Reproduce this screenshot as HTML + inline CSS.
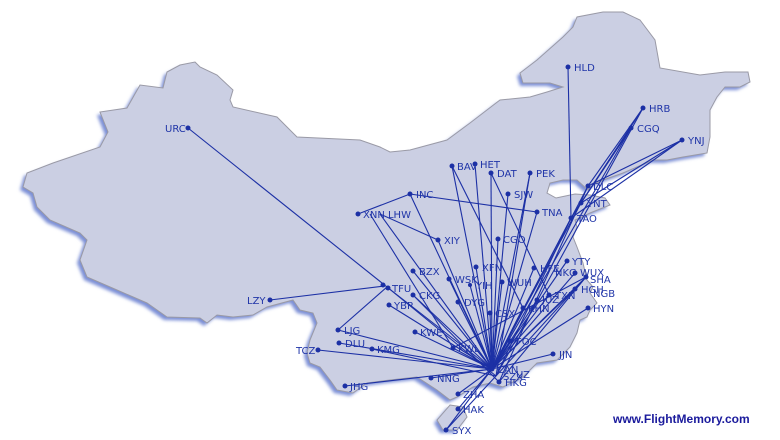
<!DOCTYPE html>
<html><head><meta charset="utf-8"><style>
html,body{margin:0;padding:0;background:#fff;width:780px;height:440px;overflow:hidden}
svg text{font-family:"DejaVu Sans","Liberation Sans",sans-serif;font-size:10px;fill:#2035a8}
</style></head><body>
<svg width="780" height="440" viewBox="0 0 780 440" xmlns="http://www.w3.org/2000/svg">
<defs><filter id="b" x="-5%" y="-5%" width="110%" height="110%"><feGaussianBlur stdDeviation="1.5"/></filter></defs>
<g id="m">
<polygon id="china" points="195,62 200,67 217,75 233,90 230,100 233,107 277,117 287,127 297,137 360,140 380,147 390,152 410,150 447,140 470,123 500,100 530,97 547,92 563,87 550,83 523,83 520,73 537,60 563,37 573,27 577,17 603,12 623,12 640,20 655,40 660,68 700,75 725,72 748,72 750,82 740,87 725,87 717,97 710,110 710,137 707,153 683,157 667,160 653,160 623,173 603,180 593,185 588,190 577,180 563,180 550,183 547,193 556,198 575,194 590,195 605,198 610,205 590,213 575,220 577,227 573,237 577,247 583,263 587,280 593,287 590,293 597,303 590,310 587,317 580,320 577,333 570,347 557,360 537,363 523,377 503,387 490,383 473,387 457,397 450,400 437,390 417,377 390,380 367,383 353,393 337,390 330,380 320,367 310,363 307,353 310,340 317,323 313,313 300,310 293,300 267,307 253,315 233,317 217,315 207,323 200,318 167,317 147,303 117,290 87,277 80,260 87,240 80,233 50,220 37,207 33,193 23,187 27,173 53,163 100,147 108,132 100,112 127,108 140,85 163,88 167,72 180,65"/>
<polygon id="hn" points="450,405 463,407 467,417 457,430 443,430 437,420"/>
</g>
<g transform="translate(-3,3)" fill="#7b8fd6" filter="url(#b)"><use href="#china"/><use href="#hn"/></g>
<g fill="#cbcfe3" stroke="#9a9aa6" stroke-width="1"><use href="#china"/><use href="#hn"/></g>
<g stroke="#1c30a5" stroke-width="1.1" fill="none">
<line x1="188" y1="128" x2="387" y2="287"/>
<line x1="270" y1="300" x2="385" y2="286"/>
<line x1="568" y1="67" x2="571" y2="218"/>
<line x1="643" y1="108" x2="588" y2="186"/><line x1="643" y1="108" x2="571" y2="218"/><line x1="643" y1="108" x2="496" y2="376"/>
<line x1="631" y1="128" x2="581" y2="203"/><line x1="631" y1="128" x2="571" y2="218"/><line x1="631" y1="128" x2="492" y2="369"/>
<line x1="682" y1="140" x2="588" y2="186"/><line x1="682" y1="140" x2="581" y2="203"/><line x1="682" y1="140" x2="571" y2="218"/>
<line x1="588" y1="186" x2="492" y2="369"/><line x1="581" y1="203" x2="492" y2="369"/><line x1="571" y1="218" x2="492" y2="369"/><line x1="571" y1="218" x2="496" y2="376"/><line x1="588" y1="186" x2="499" y2="382"/>
<line x1="410" y1="194" x2="537" y2="212"/><line x1="410" y1="194" x2="358" y2="214"/><line x1="410" y1="194" x2="492" y2="369"/>
<line x1="452" y1="166" x2="492" y2="369"/><line x1="452" y1="166" x2="523" y2="308"/><line x1="475" y1="164" x2="492" y2="369"/>
<line x1="491" y1="173" x2="492" y2="369"/><line x1="491" y1="173" x2="549" y2="295"/>
<line x1="530" y1="173" x2="492" y2="369"/><line x1="530" y1="173" x2="496" y2="376"/>
<line x1="508" y1="194" x2="492" y2="369"/><line x1="537" y1="212" x2="492" y2="369"/>
<line x1="380" y1="214" x2="492" y2="369"/><line x1="380" y1="214" x2="438" y2="240"/><line x1="370" y1="214" x2="453" y2="348"/>
<line x1="438" y1="240" x2="492" y2="369"/><line x1="498" y1="239" x2="492" y2="369"/>
<line x1="567" y1="261" x2="492" y2="369"/><line x1="534" y1="268" x2="492" y2="369"/>
<line x1="575" y1="273" x2="492" y2="369"/><line x1="586" y1="277" x2="492" y2="369"/><line x1="586" y1="277" x2="496" y2="376"/><line x1="586" y1="277" x2="453" y2="348"/>
<line x1="575" y1="289" x2="492" y2="369"/><line x1="588" y1="308" x2="492" y2="369"/>
<line x1="549" y1="295" x2="492" y2="369"/><line x1="537" y1="300" x2="492" y2="369"/><line x1="523" y1="308" x2="492" y2="369"/>
<line x1="476" y1="267" x2="492" y2="369"/><line x1="449" y1="279" x2="492" y2="369"/><line x1="470" y1="285" x2="492" y2="369"/>
<line x1="502" y1="282" x2="492" y2="369"/><line x1="413" y1="271" x2="492" y2="369"/><line x1="387" y1="287" x2="492" y2="369"/><line x1="387" y1="287" x2="496" y2="376"/>
<line x1="413" y1="295" x2="492" y2="369"/><line x1="458" y1="302" x2="492" y2="369"/><line x1="490" y1="313" x2="492" y2="369"/>
<line x1="389" y1="305" x2="492" y2="369"/><line x1="338" y1="330" x2="492" y2="369"/><line x1="338" y1="330" x2="387" y2="287"/>
<line x1="415" y1="332" x2="492" y2="369"/><line x1="510" y1="341" x2="492" y2="369"/><line x1="453" y1="348" x2="492" y2="369"/>
<line x1="339" y1="343" x2="492" y2="369"/><line x1="372" y1="349" x2="496" y2="376"/><line x1="318" y1="350" x2="492" y2="369"/>
<line x1="553" y1="354" x2="492" y2="369"/><line x1="431" y1="378" x2="492" y2="369"/><line x1="345" y1="386" x2="492" y2="369"/>
<line x1="458" y1="394" x2="492" y2="369"/><line x1="458" y1="409" x2="492" y2="369"/><line x1="446" y1="430" x2="496" y2="376"/><line x1="446" y1="430" x2="492" y2="369"/>
<line x1="499" y1="382" x2="413" y2="295"/><line x1="499" y1="382" x2="586" y2="277"/>
</g>
<g fill="#1c30a5">
<circle cx="188" cy="128" r="2.5"/><circle cx="568" cy="67" r="2.5"/><circle cx="643" cy="108" r="2.5"/><circle cx="631" cy="128" r="2.5"/><circle cx="682" cy="140" r="2.5"/>
<circle cx="452" cy="166" r="2.5"/><circle cx="475" cy="164" r="2.5"/><circle cx="491" cy="173" r="2.5"/><circle cx="530" cy="173" r="2.5"/><circle cx="508" cy="194" r="2.5"/>
<circle cx="410" cy="194" r="2.5"/><circle cx="537" cy="212" r="2.5"/><circle cx="358" cy="214" r="2.5"/><circle cx="588" cy="186" r="2.5"/><circle cx="581" cy="203" r="2.5"/><circle cx="571" cy="218" r="2.5"/>
<circle cx="438" cy="240" r="2.5"/><circle cx="498" cy="239" r="2.5"/><circle cx="567" cy="261" r="2.5"/><circle cx="534" cy="268" r="2.5"/><circle cx="575" cy="273" r="2.5"/><circle cx="586" cy="277" r="2.5"/>
<circle cx="575" cy="289" r="2.5"/><circle cx="588" cy="308" r="2.5"/><circle cx="549" cy="295" r="2.5"/><circle cx="537" cy="300" r="2.5"/><circle cx="523" cy="308" r="2.5"/>
<circle cx="476" cy="267" r="2.5"/><circle cx="413" cy="271" r="2.5"/><circle cx="449" cy="279" r="2.5"/><circle cx="470" cy="285" r="2"/><circle cx="502" cy="282" r="2.5"/>
<circle cx="383" cy="285" r="2.5"/><circle cx="388" cy="288" r="2.5"/><circle cx="413" cy="295" r="2.5"/><circle cx="458" cy="302" r="2.5"/><circle cx="490" cy="313" r="2.5"/><circle cx="389" cy="305" r="2.5"/>
<circle cx="270" cy="300" r="2.5"/><circle cx="338" cy="330" r="2.5"/><circle cx="415" cy="332" r="2.5"/><circle cx="510" cy="341" r="2.5"/><circle cx="453" cy="348" r="2.5"/>
<circle cx="339" cy="343" r="2.5"/><circle cx="372" cy="349" r="2.5"/><circle cx="318" cy="350" r="2.5"/><circle cx="553" cy="354" r="2.5"/><circle cx="492" cy="369" r="2.5"/>
<circle cx="499" cy="382" r="2.5"/><circle cx="431" cy="378" r="2.5"/><circle cx="345" cy="386" r="2.5"/><circle cx="458" cy="394" r="2.5"/><circle cx="458" cy="409" r="2.5"/><circle cx="446" cy="430" r="2.5"/>
</g>
<g>
<text x="165" y="132">URC</text><text x="574" y="71">HLD</text><text x="649" y="112">HRB</text><text x="637" y="132">CGQ</text><text x="688" y="144">YNJ</text>
<text x="457" y="170">BAV</text><text x="480" y="168">HET</text><text x="497" y="177">DAT</text><text x="536" y="177">PEK</text><text x="514" y="198">SJW</text>
<text x="416" y="198">INC</text><text x="542" y="216">TNA</text><text x="363" y="218">XNN LHW</text><text x="593" y="190">DLC</text><text x="587" y="207">YNT</text><text x="577" y="222">TAO</text>
<text x="444" y="244">XIY</text><text x="503" y="243">CGO</text><text x="572" y="265">YTY</text><text x="540" y="272">HFE</text><text x="555" y="276">NKG</text><text x="580" y="276">WUX</text><text x="590" y="283">SHA</text>
<text x="581" y="293">HGH</text><text x="593" y="297">NGB</text><text x="593" y="312">HYN</text><text x="555" y="299">TXN</text><text x="542" y="303">JUZ</text><text x="528" y="312">KHN</text>
<text x="482" y="271">XFN</text><text x="419" y="275">BZX</text><text x="455" y="283">WSK</text><text x="476" y="289">YIH</text><text x="507" y="286">WUH</text>
<text x="392" y="292">TFU</text><text x="419" y="299">CKG</text><text x="464" y="306">DYG</text><text x="495" y="317">CSX</text><text x="394" y="309">YBP</text>
<text x="247" y="304">LZY</text><text x="344" y="334">LJG</text><text x="420" y="336">KWE</text><text x="516" y="345">FOC</text><text x="458" y="352">KWL</text>
<text x="345" y="347">DLU</text><text x="377" y="353">KMG</text><text x="296" y="354">TCZ</text><text x="559" y="358">JJN</text><text x="497" y="373">CAN</text><text x="503" y="380">SZX</text><text x="516" y="378">UZ</text>
<text x="505" y="386">HKG</text><text x="437" y="382">NNG</text><text x="350" y="390">JHG</text><text x="463" y="398">ZHA</text><text x="463" y="413">HAK</text><text x="452" y="434">SYX</text>
<text x="613" y="423" style="font-family:'Liberation Sans',sans-serif;font-size:12px;font-weight:bold;fill:#1a1a9c">www.FlightMemory.com</text>
</g>
</svg>
</body></html>
